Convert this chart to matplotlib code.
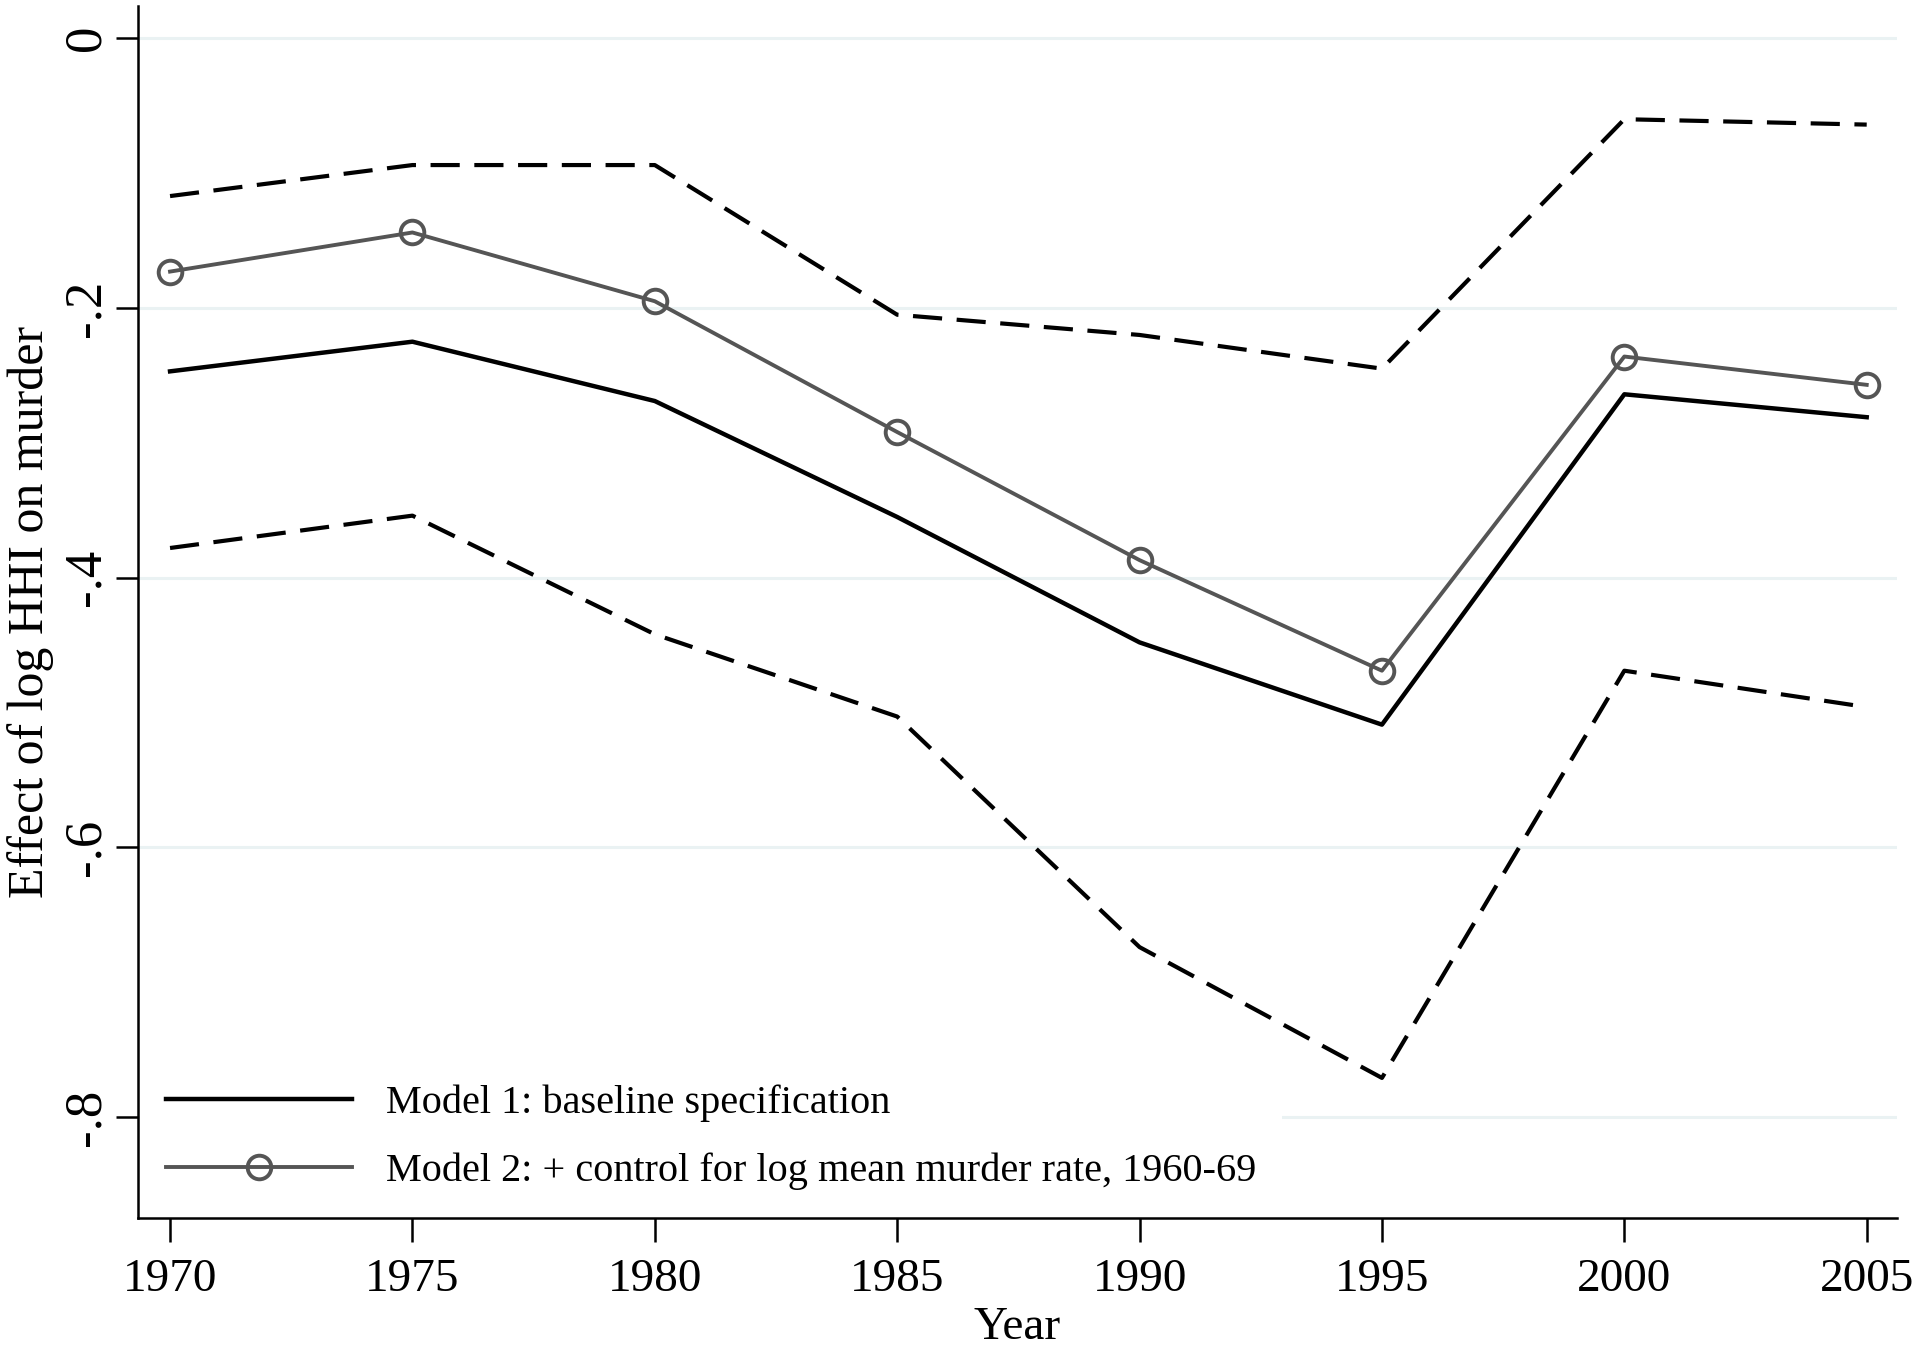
import matplotlib
matplotlib.use("Agg")
import matplotlib.pyplot as plt

years = [1970, 1975, 1980, 1985, 1990, 1995, 2000, 2005]
model1 = [-0.247, -0.225, -0.269, -0.355, -0.448, -0.509, -0.264, -0.281]
model2 = [-0.173, -0.144, -0.195, -0.292, -0.387, -0.469, -0.236, -0.257]
ci_upper = [-0.117, -0.094, -0.094, -0.205, -0.220, -0.245, -0.060, -0.064]
ci_lower = [-0.378, -0.354, -0.442, -0.503, -0.674, -0.771, -0.469, -0.496]

yticks = [0, -0.2, -0.4, -0.6, -0.8]
ytick_labels = ["0", "-.2", "-.4", "-.6", "-.8"]

plt.rcParams['font.family'] = ['Liberation Serif', 'DejaVu Serif']

fig = plt.figure(figsize=(19.2, 13.52), dpi=100)
ax = fig.add_axes([0.0719, 0.099, 0.916, 0.8966])

for y in yticks:
    ax.axhline(y, color='#eaf2f3', lw=2.2, zorder=0)

ax.plot(years, ci_upper, color='black', lw=3, dashes=(7, 3.5), zorder=2)
ax.plot(years, ci_lower, color='black', lw=3, dashes=(7, 3.5), zorder=2)
ax.plot(years, model1, color='black', lw=3.2, zorder=3,
        label='Model 1: baseline specification')
ax.plot(years, model2, color='#555555', lw=2.8, marker='o', ms=17,
        mfc='none', mec='#555555', mew=2.8, zorder=4,
        label='Model 2: + control for log mean murder rate, 1960-69')

ax.set_xlim(1969.34, 2005.62)
ax.set_ylim(-0.875, 0.024)
ax.set_xticks(years)
ax.set_yticks(yticks)
ax.set_yticklabels(ytick_labels, rotation=90, va='center')

for s in ['top', 'right']:
    ax.spines[s].set_visible(False)
for s in ['left', 'bottom']:
    ax.spines[s].set_linewidth(1.8)

ax.tick_params(axis='x', length=17, width=1.8, pad=12, labelsize=34)
ax.tick_params(axis='y', length=16, width=1.8, pad=4, labelsize=38)

ax.set_xlabel('Year', fontsize=34, labelpad=4)
ax.set_ylabel('Effect of log HHI on murder', fontsize=36, labelpad=6)

leg = ax.legend(loc='lower left', bbox_to_anchor=(0.0, 0.0), fontsize=29,
                frameon=True, facecolor='white', edgecolor='none',
                framealpha=1, fancybox=False, handlelength=4.6,
                handletextpad=0.85, labelspacing=0.75, borderpad=0.65,
                borderaxespad=0.05, numpoints=1)
leg.set_zorder(5)

fig.savefig('out.png', dpi=100, facecolor='white')
